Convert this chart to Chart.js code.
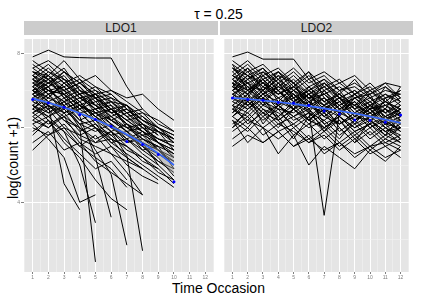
<!DOCTYPE html>
<html>
<head>
<meta charset="utf-8">
<script src="https://cdn.jsdelivr.net/npm/chart.js@4"></script>
<style>
  body { margin: 0; background: #fff; }
  #wrap { position: relative; width: 421px; height: 298px; overflow: hidden;
          font-family: "Liberation Sans", Arial, sans-serif; color: #000; }
  .txt { position: absolute; text-align: center; white-space: nowrap; }
  .strip { position: absolute; top: 21px; height: 14px; background: #CCCCCC; color: #1A1A1A;
           font-size: 12px; line-height: 14px; text-align: center; }
  canvas { position: absolute; top: 35px; }
</style>
</head>
<body>
<div id="wrap">
  <div class="txt" style="left:0;width:437px;top:7px;font-size:14px;line-height:14px;">τ = 0.25</div>
  <div class="strip" style="left:24px;width:194px;">LDO1</div>
  <div class="strip" style="left:220px;width:193px;">LDO2</div>
  <div class="txt" style="left:-57px;width:140px;top:150px;font-size:14px;line-height:16px;transform:rotate(-90deg);">log(count +1)</div>
  <div class="txt" style="left:0;width:437px;top:281px;font-size:14px;line-height:14px;">Time Occasion</div>
  <canvas id="ldo1" width="218" height="247" style="left:0"></canvas>
  <canvas id="ldo2" width="193" height="247" style="left:220px"></canvas>
</div>
<script>
var timeOccasions = [1, 2, 3, 4, 5, 6, 7, 8, 9, 10, 11, 12];
var yMajorTicks = [4, 6, 8];
var yMinorTicks = [3, 5, 7];

// one row per subject, null after drop-out
var ldo1Subjects = [
  [7.2,7.0,6.9,6.6,6.4,6.1,5.8,5.6,5.3,5.0],
  [6.8,7.1,6.5,6.7,6.2,6.3,5.9,5.4,5.5,4.9],
  [7.5,7.3,7.6,7.0,6.8,6.5,6.2,5.9,5.6,5.2],
  [6.4,6.6,6.2,6.0,5.7,5.9,5.5,5.2,4.8,4.6],
  [7.0,6.8,7.2,6.9,6.5,6.6,6.0,5.8,5.9,5.4],
  [6.1,6.3,5.9,5.5,5.8,5.3,5.1,4.9,null,null],
  [7.7,7.4,7.8,7.3,7.0,6.8,6.6,6.3,6.0,5.6],
  [6.6,6.9,6.4,6.6,6.1,5.8,5.9,5.5,5.1,4.8],
  [5.8,6.2,5.6,5.2,4.6,4.1,3.8,null,null,null],
  [7.3,7.0,6.7,6.9,6.6,6.2,6.4,6.0,5.7,5.5],
  [6.9,7.2,7.0,6.5,6.7,6.3,6.0,6.1,5.8,null],
  [7.1,6.7,6.9,6.4,6.0,5.7,5.5,null,null,null],
  [6.3,6.0,6.4,5.9,6.1,5.6,5.3,5.0,4.7,4.4],
  [7.6,7.8,7.5,7.2,6.9,7.0,6.7,6.4,6.2,5.9],
  [6.7,6.5,6.8,6.3,5.2,3.6,null,null,null,null],
  [7.4,7.1,7.3,6.8,6.5,6.7,6.3,5.9,null,null],
  [6.5,6.3,6.6,6.0,2.4,null,null,null,null,null],
  [6.9,6.6,6.3,6.5,6.2,5.9,5.6,5.7,5.4,5.2],
  [7.0,7.4,7.1,7.3,6.8,6.4,6.5,6.2,5.9,5.7],
  [6.0,5.8,6.1,5.6,5.3,5.5,5.0,4.7,4.5,null],
  [7.8,7.5,7.2,7.4,7.1,6.9,6.5,6.2,null,null],
  [6.5,6.8,6.6,6.2,6.4,6.0,5.8,5.5,5.3,5.1],
  [7.2,6.9,7.0,6.7,6.3,6.5,6.1,5.8,5.6,5.4],
  [5.6,5.9,5.4,5.6,5.1,4.8,4.5,4.2,null,null],
  [6.8,7.0,6.7,6.9,6.4,6.2,5.9,6.0,5.6,5.3],
  [7.5,7.2,7.4,6.9,7.0,6.6,6.3,6.4,6.0,5.8],
  [6.4,6.1,6.3,5.7,5.5,5.3,4.8,4.2,null,null],
  [7.1,7.3,6.8,7.0,6.6,6.4,6.1,5.7,5.5,null],
  [6.6,6.3,6.5,6.1,5.9,6.1,5.7,5.4,5.1,4.9],
  [7.3,7.6,7.2,6.8,6.9,6.5,6.2,5.9,5.7,5.5],
  [5.9,6.2,5.7,5.3,4.9,5.1,4.6,null,null,null],
  [7.0,6.7,6.4,6.6,6.3,6.0,5.8,5.5,5.2,4.7],
  [6.7,7.0,6.9,6.4,6.5,6.1,5.6,5.8,5.4,5.0],
  [7.4,7.7,7.3,7.1,6.7,6.8,6.4,6.1,5.8,null],
  [6.1,5.7,5.2,4.0,4.2,null,null,null,null,null],
  [6.9,6.5,6.7,6.2,6.0,5.8,5.4,5.2,4.9,4.5],
  [7.6,7.3,7.0,7.2,6.8,6.5,6.6,6.2,6.0,5.8],
  [6.3,6.6,6.2,5.8,6.0,5.5,5.2,4.9,4.6,null],
  [7.2,7.4,6.9,7.1,6.6,6.7,6.3,6.0,5.7,5.6],
  [6.8,6.4,6.6,6.1,5.4,4.75,2.85,null,null,null],
  [7.9,8.08,7.9,7.88,7.87,7.87,7.1,6.5,null,null],
  [5.4,5.8,6.0,5.5,5.2,4.9,4.4,null,null,null],
  [6.2,6.5,6.0,5.8,5.6,5.9,5.25,2.7,null,null],
  [7.0,6.6,4.5,3.8,null,null,null,null,null,null],
  [6.6,6.2,5.9,5.0,3.45,null,null,null,null,null],
  [7.3,7.1,7.5,7.2,7.4,7.0,6.8,6.9,6.5,6.2],
  [6.9,7.3,6.8,6.5,6.9,6.4,6.6,6.0,5.9,5.7],
  [7.1,6.8,7.2,6.8,6.6,6.3,6.5,6.1,5.6,5.2],
  [6.5,6.9,6.5,6.7,6.3,5.9,6.1,5.6,5.4,5.0],
  [7.4,7.0,7.1,6.6,6.8,6.2,5.9,5.6,5.0,4.6],
  [6.9,7.1,6.6,6.8,6.5,6.2,6.0,5.7,5.5,5.3],
  [7.3,6.9,7.1,6.7,6.9,6.5,6.2,6.3,5.9,5.6],
  [6.4,6.7,6.5,6.1,6.2,5.7,5.5,5.1,4.9,null],
  [7.0,7.2,6.9,6.6,6.4,6.5,6.1,5.9,5.6,5.4],
  [6.6,6.4,6.7,6.4,6.0,5.6,5.7,5.3,5.0,null],
  [7.5,7.4,7.0,7.2,6.9,6.7,6.4,6.5,6.1,5.9],
  [6.2,6.0,6.3,6.0,5.6,5.7,5.2,4.9,null,null],
  [7.1,7.5,7.3,6.9,7.1,6.7,6.6,6.2,6.0,5.7],
  [6.8,6.6,6.4,6.6,6.3,6.0,5.7,5.9,5.4,5.1],
  [7.4,7.2,7.5,7.0,6.8,6.9,6.5,6.1,5.9,null]
];

var ldo2Subjects = [
  [7.2,7.0,7.3,6.9,7.1,6.8,6.6,6.9,6.5,6.7,6.4,6.6],
  [6.5,6.8,6.4,6.6,6.3,6.5,6.1,6.3,6.0,6.2,5.9,6.1],
  [7.6,7.3,7.5,7.1,7.4,7.0,7.2,6.8,7.0,6.7,6.9,6.6],
  [6.0,6.3,5.8,6.1,5.9,5.6,5.9,5.5,5.8,5.4,5.7,5.5],
  [7.0,7.4,6.9,7.2,6.7,7.0,6.6,6.8,6.4,6.6,6.3,6.5],
  [6.9,6.7,7.0,6.6,6.8,6.45,3.65,6.4,6.2,6.5,6.1,6.3],
  [7.8,7.5,7.7,7.3,7.6,7.2,7.4,7.0,7.2,6.9,7.1,6.8],
  [6.3,6.6,6.2,6.5,6.0,6.3,5.9,6.2,5.7,6.0,5.6,5.8],
  [7.3,7.0,7.2,6.8,7.0,6.7,6.9,6.5,6.8,6.4,6.6,6.3],
  [5.7,6.0,5.6,5.9,5.5,5.8,5.3,5.6,5.2,5.5,5.6,5.4],
  [7.1,6.8,7.4,7.0,6.6,6.9,6.5,6.8,6.3,6.6,6.2,6.5],
  [6.6,6.9,6.5,6.3,6.7,6.4,6.2,6.5,6.1,6.3,6.0,6.2],
  [7.5,7.8,7.4,7.6,7.2,7.5,7.1,7.3,6.9,7.2,6.8,7.0],
  [6.9,6.6,7.0,6.6,6.9,6.5,6.8,6.4,6.6,6.2,6.5,6.1],
  [6.2,5.9,6.3,5.9,6.1,5.7,6.0,5.6,5.9,5.5,5.8,5.6],
  [7.4,7.1,7.0,7.3,6.8,7.1,6.7,6.9,6.6,6.8,6.4,6.7],
  [6.7,7.0,6.6,6.8,6.5,6.7,6.3,6.6,6.2,6.4,6.1,6.0],
  [7.0,7.2,6.8,7.1,6.9,6.6,6.8,6.5,6.7,6.3,6.5,6.2],
  [5.9,6.2,6.0,5.7,6.0,5.6,5.8,5.4,5.7,5.3,5.5,5.2],
  [7.7,7.4,7.6,7.2,7.5,7.1,7.3,7.0,7.1,6.8,7.0,6.9],
  [6.4,6.7,6.3,6.6,6.2,6.4,6.0,6.3,5.9,6.1,6.3,5.9],
  [7.2,7.5,7.1,6.9,7.2,6.8,7.0,6.6,6.9,6.5,6.7,6.4],
  [6.8,6.6,6.9,6.5,6.4,6.7,6.3,6.1,6.4,6.0,6.2,5.9],
  [7.9,8.03,7.84,7.84,7.84,7.3,7.5,7.2,7.4,7.0,7.2,7.1],
  [6.1,6.4,6.0,6.3,5.8,6.1,5.7,6.0,5.6,5.9,5.5,5.7],
  [7.3,7.6,7.2,7.5,7.0,7.3,6.9,7.1,6.8,7.0,6.6,6.8],
  [6.5,6.3,6.7,6.2,6.5,6.1,6.4,5.9,6.2,5.8,6.1,5.7],
  [7.1,6.9,7.3,6.9,7.1,6.7,6.5,6.8,6.4,6.7,6.3,6.5],
  [6.9,7.2,6.7,7.0,6.6,6.9,6.5,6.7,6.3,6.5,6.2,6.4],
  [5.5,5.8,5.6,5.9,5.5,5.7,5.4,5.6,5.3,5.5,5.2,5.4],
  [7.6,7.2,7.4,7.0,7.3,6.9,7.1,6.8,7.0,6.6,6.9,6.7],
  [6.6,6.4,6.8,6.3,6.6,6.2,6.5,6.1,6.4,6.0,6.3,6.1],
  [7.4,7.7,7.3,7.5,7.1,7.4,7.0,7.2,6.9,7.1,6.7,7.0],
  [6.3,6.0,6.5,6.1,6.3,6.0,6.2,5.8,6.1,5.7,6.0,5.8],
  [7.0,6.7,7.1,6.8,6.5,6.9,6.4,6.7,6.3,6.6,6.2,6.4],
  [6.2,5.6,6.0,5.3,5.8,5.0,5.5,5.2,4.9,5.4,5.1,5.5],
  [7.5,7.1,6.6,7.2,6.9,6.4,7.0,6.5,6.1,6.6,6.4,6.0],
  [6.8,7.3,7.6,7.0,6.5,7.1,6.7,6.3,6.8,6.9,6.2,6.6],
  [7.2,6.6,6.9,7.4,6.8,6.2,6.6,7.0,6.5,6.1,6.8,6.3],
  [6.4,6.9,6.1,6.6,7.0,6.5,5.9,6.4,6.7,6.2,5.8,6.3],
  [7.7,7.0,7.3,6.7,7.1,7.5,6.8,6.4,6.9,6.5,7.1,6.7],
  [6.0,6.5,6.8,6.2,5.7,6.3,6.6,6.0,5.6,6.2,5.9,5.6],
  [7.1,7.6,7.0,7.5,7.2,6.6,7.2,6.9,7.3,6.8,6.5,7.1],
  [6.6,6.1,6.4,6.0,6.5,6.8,6.1,5.7,6.2,6.5,6.0,5.7],
  [7.3,6.9,7.5,7.2,6.7,7.0,7.3,6.8,6.5,6.9,7.2,6.8],
  [7.0,7.3,6.9,7.1,6.8,7.0,6.7,6.9,6.6,6.4,6.7,6.5],
  [6.7,6.5,6.8,6.6,6.3,6.6,6.4,6.1,6.3,6.2,5.9,6.0],
  [7.4,7.2,7.0,7.3,7.0,6.8,7.1,6.7,6.9,6.6,6.8,6.9],
  [6.3,6.7,6.4,6.2,6.5,6.2,6.0,6.3,5.9,6.1,5.8,6.0],
  [7.2,6.9,7.2,7.0,6.7,6.9,6.6,6.4,6.7,6.3,6.5,6.3],
  [6.9,7.1,6.7,6.5,6.9,6.6,6.3,6.6,6.2,6.4,6.1,6.2],
  [7.6,7.4,7.1,7.4,7.2,6.9,7.2,6.8,6.6,7.0,6.7,6.5],
  [6.5,6.2,6.6,6.4,6.1,6.4,6.0,6.2,5.8,6.1,5.7,6.0],
  [7.1,7.4,7.2,6.9,7.1,6.8,6.9,6.6,6.8,6.5,6.6,6.4],
  [6.8,6.5,6.9,6.7,6.5,6.2,6.5,6.3,6.0,6.3,6.2,5.9]
];

// quantile (tau = 0.25) per occasion and smoothed fit with band
var ldo1Quantile = [6.76, 6.66, 6.55, 6.35, 6.22, 6.04, 5.63, 5.55, 5.28, 4.55];
var ldo1Fit      = [6.78, 6.67, 6.54, 6.39, 6.22, 6.03, 5.82, 5.58, 5.31, 5.00];
var ldo1Lower    = [6.73, 6.63, 6.50, 6.35, 6.18, 5.98, 5.76, 5.50, 5.18, 4.72];
var ldo1Upper    = [6.83, 6.71, 6.58, 6.43, 6.26, 6.08, 5.88, 5.66, 5.44, 5.28];

var ldo2Quantile = [6.80, 6.76, 6.74, 6.68, 6.66, 6.60, 6.45, 6.37, 6.21, 6.20, 6.15, 6.34];
var ldo2Fit      = [6.80, 6.77, 6.73, 6.69, 6.64, 6.58, 6.52, 6.45, 6.38, 6.30, 6.22, 6.13];
var ldo2Lower    = [6.76, 6.74, 6.70, 6.66, 6.61, 6.55, 6.49, 6.42, 6.35, 6.26, 6.17, 6.07];
var ldo2Upper    = [6.84, 6.80, 6.76, 6.72, 6.67, 6.61, 6.55, 6.48, 6.41, 6.34, 6.27, 6.19];

function toPoints(values) {
  return values.map(function(v, i) { return { x: timeOccasions[i], y: v }; });
}

function buildDatasets(subjects, quantile, fit, lower, upper) {
  var sets = subjects.map(function(row) {
    return { data: toPoints(row), borderColor: '#000000', borderWidth: 1,
             pointRadius: 0, fill: false, order: 4 };
  });
  sets.push({ data: toPoints(lower), borderWidth: 0, pointRadius: 0, fill: false,
              cubicInterpolationMode: 'monotone', order: 3 });
  sets.push({ data: toPoints(upper), borderWidth: 0, pointRadius: 0, fill: '-1',
              backgroundColor: 'rgba(153,153,153,0.45)', cubicInterpolationMode: 'monotone', order: 3 });
  sets.push({ data: toPoints(fit), borderColor: '#3366FF', borderWidth: 1.6, pointRadius: 0,
              fill: false, cubicInterpolationMode: 'monotone', order: 1 });
  sets.push({ data: toPoints(quantile), showLine: false, pointRadius: 1.5, pointBorderWidth: 0,
              pointBackgroundColor: '#0000FF', order: 0 });
  return sets;
}

var panelBackground = {
  id: 'panelBackground',
  beforeDraw: function(chart) {
    var a = chart.chartArea, ctx = chart.ctx;
    ctx.save();
    ctx.fillStyle = '#E5E5E5';
    ctx.fillRect(a.left, a.top, a.right - a.left, a.bottom - a.top);
    ctx.restore();
  }
};

function isMajor(v, majors) { return majors.indexOf(v) >= 0; }

function makeOptions(showY) {
  var xMinor = [0.5, 1.5, 2.5, 3.5, 4.5, 5.5, 6.5, 7.5, 8.5, 9.5, 10.5, 11.5, 12.5];
  var xAll = timeOccasions.concat(xMinor).sort(function(a, b) { return a - b; });
  var yAll = yMajorTicks.concat(yMinorTicks).sort(function(a, b) { return a - b; });
  return {
    responsive: false,
    animation: false,
    devicePixelRatio: 1,
    layout: { padding: 0 },
    elements: { line: { tension: 0 } },
    plugins: { legend: { display: false }, tooltip: { enabled: false } },
    scales: {
      x: {
        type: 'linear', min: 0.45, max: 12.55,
        afterBuildTicks: function(s) { s.ticks = xAll.map(function(v) { return { value: v }; }); },
        afterFit: function(s) { s.height = 10; },
        border: { display: false },
        grid: {
          color: function(c) { return isMajor(c.tick.value, timeOccasions) ? '#FFFFFF' : '#F2F2F2'; },
          lineWidth: function(c) { return isMajor(c.tick.value, timeOccasions) ? 1 : 0.6; },
          tickColor: function(c) { return isMajor(c.tick.value, timeOccasions) ? '#7F7F7F' : 'rgba(0,0,0,0)'; },
          tickLength: 2
        },
        ticks: {
          autoSkip: false, maxRotation: 0, minRotation: 0, padding: 1,
          color: '#7F7F7F', font: { size: 5, family: '"Liberation Sans", Arial, sans-serif' },
          callback: function(v) { return isMajor(v, timeOccasions) ? String(v) : ''; }
        }
      },
      y: {
        type: 'linear', min: 2.13, max: 8.38,
        afterBuildTicks: function(s) { s.ticks = yAll.map(function(v) { return { value: v }; }); },
        afterFit: function(s) { s.width = showY ? 24 : 0; },
        border: { display: false },
        grid: {
          color: function(c) { return isMajor(c.tick.value, yMajorTicks) ? '#FFFFFF' : '#F2F2F2'; },
          lineWidth: function(c) { return isMajor(c.tick.value, yMajorTicks) ? 1 : 0.6; },
          tickColor: function(c) { return isMajor(c.tick.value, yMajorTicks) ? '#7F7F7F' : 'rgba(0,0,0,0)'; },
          drawTicks: showY,
          tickLength: 3
        },
        ticks: {
          display: showY, autoSkip: false, padding: 1,
          color: '#7F7F7F', font: { size: 5, family: '"Liberation Sans", Arial, sans-serif' },
          callback: function(v) { return isMajor(v, yMajorTicks) ? String(v) : ''; }
        }
      }
    }
  };
}

new Chart(document.getElementById('ldo1').getContext('2d'), {
  type: 'line',
  data: { datasets: buildDatasets(ldo1Subjects, ldo1Quantile, ldo1Fit, ldo1Lower, ldo1Upper) },
  options: makeOptions(true),
  plugins: [panelBackground]
});

new Chart(document.getElementById('ldo2').getContext('2d'), {
  type: 'line',
  data: { datasets: buildDatasets(ldo2Subjects, ldo2Quantile, ldo2Fit, ldo2Lower, ldo2Upper) },
  options: makeOptions(false),
  plugins: [panelBackground]
});
</script>
</body>
</html>
